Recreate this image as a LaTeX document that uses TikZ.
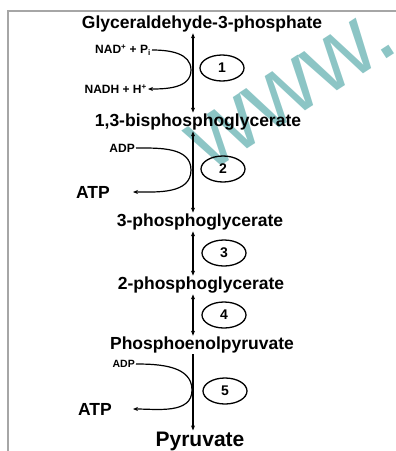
\documentclass[tikz,border=0pt]{standalone}
\usepackage{fontspec}
\setmainfont{Liberation Sans}
\usetikzlibrary{arrows.meta,shapes.geometric}

\tikzset{
	metab/.style={font=\fontsize{17.5}{20}\selectfont\bfseries, inner sep=1pt},
	cofactor/.style={font=\fontsize{12}{14}\selectfont\bfseries, inner sep=1pt},
	stepnum/.style={ellipse, draw, line width=1.3pt, minimum width=44pt, minimum height=26pt, inner sep=0pt, font=\fontsize{14}{16}\selectfont\bfseries},
	fwd/.style={line width=1.2pt, -{Stealth[length=5pt,width=4pt]}},
	rev/.style={line width=1.2pt, {Stealth[length=5pt,width=4pt]}-{Stealth[length=5pt,width=4pt]}},
	side/.style={line width=1.2pt, -{Stealth[length=5pt,width=4pt]}}
}

\begin{document}
\begin{tikzpicture}[x=1pt,y=-1pt]
	\useasboundingbox (0,0) rectangle (396,451);
	% frame
	\draw[black!35, line width=1.5pt] (396,11) -- (8,11) -- (8,451);
	% watermark
	\node[rotate=33, text=teal!60, opacity=0.75, inner sep=0pt, font=\fontsize{96}{96}\selectfont] (mark) at (292,90) {www.};

	\coordinate (axis) at (193,0);
	\node[metab] (gap) at (202,24) {Glyceraldehyde-3-phosphate};
	\node[metab] (bpg) at (198,122) {1,3-bisphosphoglycerate};
	\node[metab] (pga3) at (200,222) {3-phosphoglycerate};
	\node[metab] (pga2) at (201,285) {2-phosphoglycerate};
	\node[metab] (pep) at (202,345) {Phosphoenolpyruvate};
	\node[metab, font=\fontsize{21}{24}\selectfont\bfseries] (pyr) at (200,441) {Pyruvate};

	\draw[rev] (gap.south -| axis) -- (bpg.north -| axis);
	\draw[rev] (bpg.south -| axis) -- (pga3.north -| axis);
	\draw[rev] (pga3.south -| axis) -- (pga2.north -| axis);
	\draw[rev] (pga2.south -| axis) -- (pep.north -| axis);
	\draw[fwd] (pep.south -| axis) -- (pyr.north -| axis);

	\node[stepnum] (s1) at (222,68) {1};
	\node[stepnum] (s2) at (223,169) {2};
	\node[stepnum] (s3) at (224,253) {3};
	\node[stepnum] (s4) at (224,315) {4};
	\node[stepnum] (s5) at (225,391) {5};

	% step 1
	\node[cofactor, anchor=east] (nad) at (152,50) {NAD\textsuperscript{+} + P\textsubscript{i}};
	\node[cofactor, anchor=east] (nadh) at (148,89) {NADH + H\textsuperscript{+}};
	\coordinate (t1) at (191,70);
	\draw[side] (nad.east) to[out=0,in=90] (t1) to[out=-90,in=0] (nadh.east);

	% step 2
	\node[cofactor, anchor=east] (adp1) at (136,148) {ADP};
	\node[metab, anchor=east] (atp1) at (111,192) {ATP};
	\coordinate (t2) at (191,170);
	\draw[side] (adp1.east) to[out=0,in=90] (t2) to[out=-90,in=0] ([xshift=22pt]atp1.east);

	% step 5
	\node[cofactor, anchor=east, font=\fontsize{10.5}{12}\selectfont\bfseries] (adp2) at (136,364) {ADP};
	\node[metab, anchor=east] (atp2) at (113,409) {ATP};
	\coordinate (t5) at (192,390);
	\draw[side] (adp2.east) to[out=0,in=90] (t5) to[out=-90,in=0] ([xshift=20pt]atp2.east);
\end{tikzpicture}
\end{document}
